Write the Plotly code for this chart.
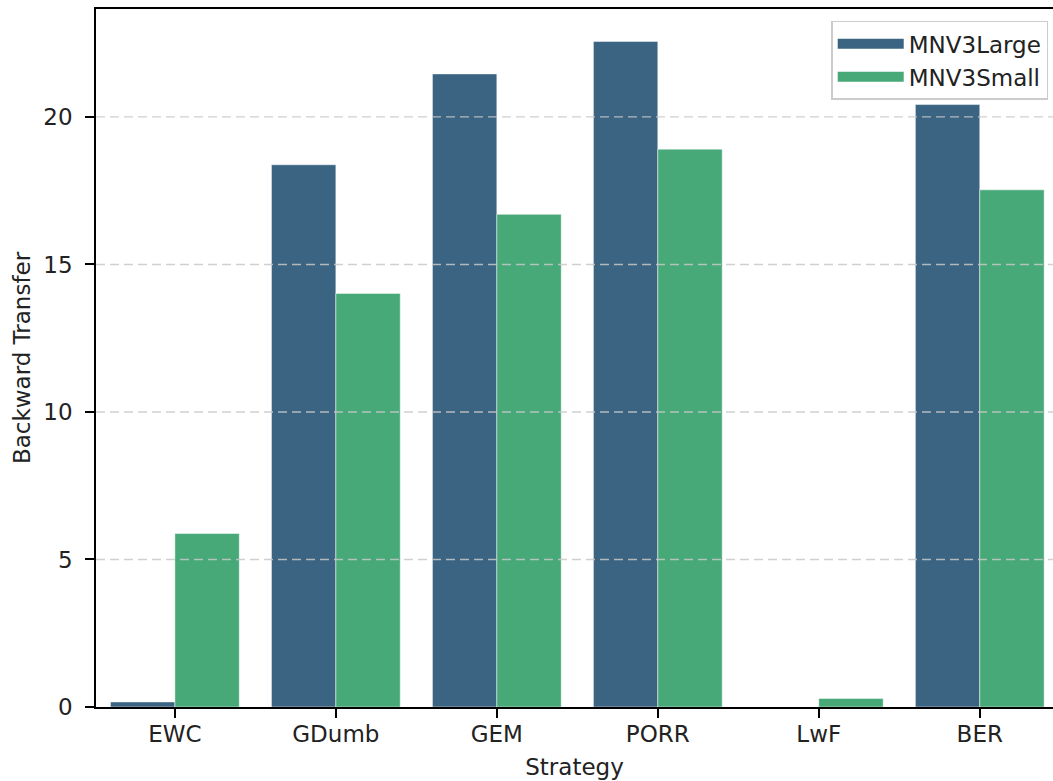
import plotly.graph_objects as go

strategies = ["EWC", "GDumb", "GEM", "PORR", "LwF", "BER"]
large_vals = [0.17, 18.38, 21.46, 22.56, 0.0, 20.42]
small_vals = [5.88, 14.02, 16.70, 18.91, 0.29, 17.53]
series_names = ["MNV3Large", "MNV3Small"]
colors = ["#3a6481", "#47a878"]
y_ticks = [0, 5, 10, 15, 20]

FONT = "DejaVu Sans"
FS = 23
fig = go.Figure()
for name, vals, col in zip(series_names, [large_vals, small_vals], colors):
    fig.add_trace(go.Bar(
        x=strategies, y=vals, name=name, showlegend=False,
        marker=dict(color=col, line=dict(color="rgba(255,255,255,0.6)", width=0.8)),
    ))
# legend proxies with wide patches
for name, col in zip(series_names, colors):
    fig.add_trace(go.Scatter(
        x=[None], y=[None], mode="lines", name=name,
        line=dict(color=col, width=17),
    ))

# dashed grid drawn above the bars, as in the reference
for t in y_ticks[1:]:
    fig.add_shape(type="line", xref="paper", x0=0, x1=1, yref="y", y0=t, y1=t,
                  line=dict(color="rgba(200,200,200,0.85)", width=1.3, dash="9px,5px"),
                  layer="above")

fig.update_layout(
    width=1053, height=781,
    margin=dict(l=96, r=0, t=9, b=74),
    paper_bgcolor="white", plot_bgcolor="white",
    barmode="group", bargap=0.2, bargroupgap=0,
    font=dict(family=FONT, size=FS, color="#222222"),
    legend=dict(
        x=0.995, y=0.983, xanchor="right", yanchor="top",
        bgcolor="rgba(255,255,255,0.85)", bordercolor="#cccccc", borderwidth=1.5,
        font=dict(family=FONT, size=FS, color="#222222"),
        itemwidth=66, tracegroupgap=0,
    ),
    xaxis=dict(
        range=[-0.49, 5.455],
        showline=True, linecolor="black", linewidth=1.6, mirror=True,
        ticks="outside", ticklen=9, tickwidth=1.5, tickcolor="black",
        showgrid=False, zeroline=False, ticklabelstandoff=-3,
        title=dict(text="Strategy", font=dict(family=FONT, size=FS), standoff=12),
        tickfont=dict(family=FONT, size=FS),
    ),
    yaxis=dict(
        range=[0, 23.66],
        tickvals=y_ticks,
        showline=True, linecolor="black", linewidth=1.6, mirror=False,
        ticks="outside", ticklen=9, tickwidth=1.5, tickcolor="black",
        showgrid=False, zeroline=False, layer="above traces", ticklabelstandoff=8,
        title=dict(text="Backward Transfer", font=dict(family=FONT, size=FS), standoff=6),
        tickfont=dict(family=FONT, size=FS),
    ),
)

fig.write_html(
    "out.html",
    config={"displayModeBar": False},
    post_script="document.body.style.margin='0';document.body.style.padding='0';document.body.style.overflow='hidden';",
)
